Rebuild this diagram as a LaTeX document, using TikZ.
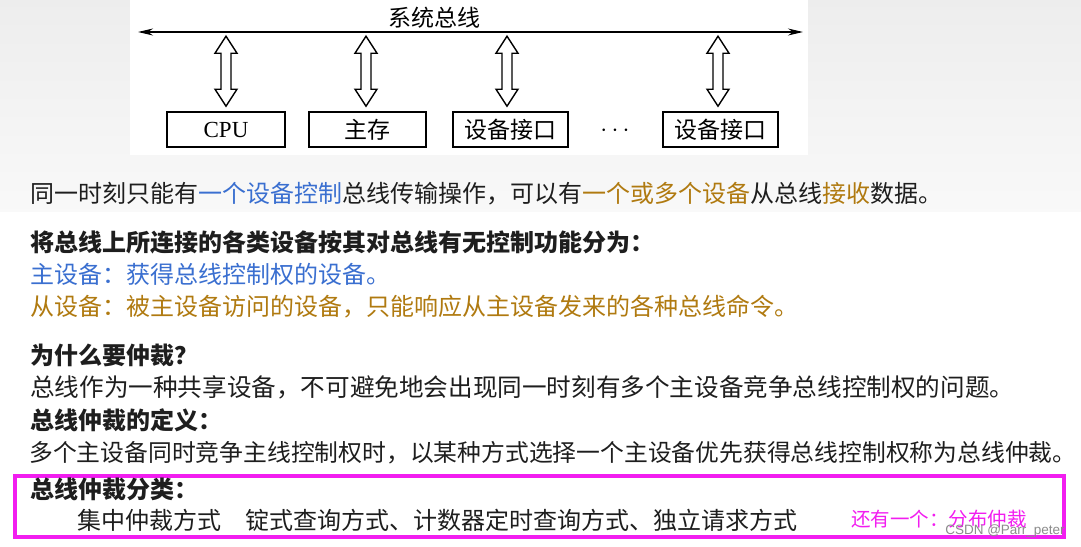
\documentclass[tikz,border=0pt]{standalone}
\usepackage{fontspec}
\setmainfont{Liberation Serif}
\newfontfamily\cjk{Noto Sans CJK SC}
\newfontfamily\wmfont{Liberation Sans}
\usetikzlibrary{arrows.meta}
\definecolor{myblue}{HTML}{3A6FD0}
\definecolor{mygold}{HTML}{B07A10}
\definecolor{mymag}{HTML}{F21DF0}
\definecolor{txt}{HTML}{1E1E1E}
\begin{document}
\begin{tikzpicture}[x=1pt,y=-1pt,
  box/.style={draw, line width=1.6pt, minimum height=35pt, inner sep=0pt, font=\cjk\fontsize{23}{26}\selectfont},
  dbl/.style={draw, fill=white, line width=1.4pt, line join=miter},
  txtline/.style={anchor=west, inner sep=0pt, text=txt, font=\cjk\fontsize{24}{28}\selectfont},
  boldline/.style={anchor=west, inner sep=0pt, text=txt, font=\cjk\bfseries\fontsize{24}{28}\selectfont},
  bus/.style={line width=1.5pt, {Stealth[length=15pt,width=7pt]}-{Stealth[length=15pt,width=7pt]}}
]
\useasboundingbox (0,0) rectangle (1081,546);
\fill[white] (0,0) rectangle (1081,546);
\shade[top color=black!7, bottom color=black!2.5] (0,0) rectangle (1081,211);
\fill[white] (130,0) rectangle (808,155);

% top diagram
\node[font=\cjk\fontsize{23}{26}\selectfont, inner sep=0pt] (title) at (434,18) {系统总线};
\coordinate (busL) at (138,32);
\coordinate (busR) at (803,32);
\draw[bus] (busL) -- (busR);

\node[box, minimum width=118pt, font=\fontsize{23}{26}\selectfont] (cpu) at (226,129.5) {CPU};
\node[box, minimum width=117pt] (mem) at (367.5,129.5) {主存};
\node[box, minimum width=115pt] (io1) at (510.5,129.5) {设备接口};
\node[font=\fontsize{24}{26}\selectfont, inner sep=0pt] (dots) at (615,131) {$\cdots$};
\node[box, minimum width=115pt] (io2) at (720.5,129.5) {设备接口};

\newcommand\dblarrow[2]{%
  \draw[dbl] ([xshift=#2pt, yshift=5pt]#1.north) -- ++(-11,-17) -- ++(6,0) -- ++(0,-36) -- ++(-6,0)
    -- ++(11,-17) -- ++(11,17) -- ++(-6,0) -- ++(0,36) -- ++(6,0) -- cycle;}
\dblarrow{cpu}{0}
\dblarrow{mem}{-1.5}
\dblarrow{io1}{-3.5}
\dblarrow{io2}{-2.5}

% text lines
\node[txtline] (l1) at (30,194) {同一时刻只能有\textcolor{myblue}{一个设备控制}总线传输操作，可以有\textcolor{mygold}{一个或多个设备}从总线\textcolor{mygold}{接收}数据。};
\node[boldline] (l2) at (30,242) {将总线上所连接的各类设备按其对总线有无控制功能分为：};
\node[txtline, text=myblue] (l3) at (30,274) {主设备：获得总线控制权的设备。};
\node[txtline, text=mygold] (l4) at (30,307) {从设备：被主设备访问的设备，只能响应从主设备发来的各种总线命令。};
\node[boldline] (l5) at (30,355) {为什么要仲裁？};
\node[txtline, font=\cjk\fontsize{24.6}{28}\selectfont] (l6) at (30,387) {总线作为一种共享设备，不可避免地会出现同一时刻有多个主设备竞争总线控制权的问题。};
\node[boldline] (l7) at (30,420) {总线仲裁的定义：};
\node[txtline, font=\cjk\fontsize{23.8}{28}\selectfont] (l8) at (29,453) {多个主设备同时竞争主线控制权时，以某种方式选择一个主设备优先获得总线控制权称为总线仲裁。};

\draw[mymag, line width=4pt] (15,476) rectangle (1064,537);
\node[boldline] (l9) at (30,489) {总线仲裁分类：};
\node[txtline] (l10) at (77,520) {集中仲裁方式\hspace{24pt}锭式查询方式、计数器定时查询方式、独立请求方式};
\node[anchor=west, inner sep=0pt, text=mymag, font=\cjk\fontsize{19.5}{22}\selectfont] (note) at (851,519) {还有一个：分布仲裁};
\node[inner sep=0pt, text=black!45, font=\wmfont\fontsize{13.5}{16}\selectfont] (wm) at (1005,531) {CSDN @Parr\_peter};
\end{tikzpicture}
\end{document}
